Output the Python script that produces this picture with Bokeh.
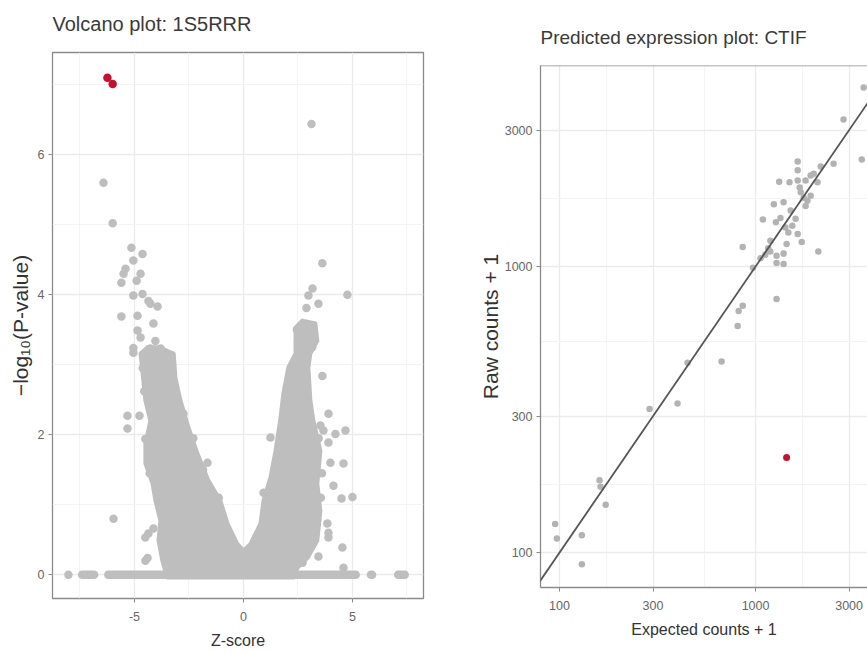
from bokeh.plotting import figure
from bokeh.layouts import row, column
from bokeh.models import FixedTicker, Range1d, Span, Slope, BasicTickFormatter, Title
from bokeh.embed import file_html
from bokeh.resources import INLINE

FONT = "Liberation Sans"

# ---------------- Volcano plot data ----------------
sig_z = [-6.24, -6.0]
sig_p = [7.10, 7.01]

out_z = [3.12, -6.42, -6.0, 3.62, 4.77,
         -5.14, -4.63, -5.05, -5.41, -5.5, -5.6, -4.72, -4.9, -5.05, -4.63, -4.36, -4.27, -3.94,
         -5.6, -4.86, -4.13, -4.86, -4.72, -5.05, -5.05, -4.04, -3.8, -4.27,
         -5.32, -5.32, -4.77, -4.5, -1.65, -5.96, -4.13, -4.5, -4.36, -4.13, -4.5, -4.4, -1.13,
         1.24, 0.92, 3.17, 2.98, 2.89, 3.44, 3.62, 3.9, 3.53, 3.67, 4.22, 4.68, 3.9, 3.99,
         4.59, 4.13, 4.5, 5.0, 3.85, 3.9, 3.9, 4.54, 3.44, 3.07, 2.71, 4.59,
         2.45, 2.7, 3.1, 3.25, 2.5, 3.15,
         -4.62, -4.55, -4.3, -2.75, -2.3, -1.85, 1.55, 1.95, 3.45, 3.6, 3.55]
out_p = [6.44, 5.60, 5.02, 4.45, 4.00,
         4.67, 4.58, 4.49, 4.37, 4.30, 4.17, 4.30, 4.20, 3.99, 4.01, 3.91, 3.87, 3.83,
         3.69, 3.70, 3.59, 3.49, 3.39, 3.24, 3.17, 3.34, 3.23, 3.23,
         2.27, 2.09, 2.27, 1.94, 1.60, 0.80, 1.67, 0.53, 0.59, 0.66, 0.20, 0.24, 1.10,
         1.96, 1.17, 4.09, 3.99, 3.81, 3.87, 2.84, 2.30, 2.13, 2.06, 2.01, 2.06, 1.89, 1.60,
         1.59, 1.27, 1.09, 1.11, 0.73, 0.60, 0.53, 0.39, 0.26, 0.39, 0.17, 0.10,
         3.50, 3.55, 3.50, 3.35, 3.30, 3.25,
         2.95, 2.62, 1.45, 2.3, 1.95, 1.5, 1.55, 2.05, 1.95, 1.45, 1.1]

cloud_z = [-3.5, -3.72, -3.9, -3.81, -4.04, -4.17, -4.5, -4.5, -4.27, -4.5, -4.59, -4.72,
           -4.4, -3.9, -3.2, -3.12, -2.89, -2.52, -2.11, -1.6, -1.06, -0.73, -0.3, 0.0,
           0.32, 0.78, 0.92, 1.24, 1.47, 1.7, 1.83, 2.06, 2.39, 2.39, 2.7, 3.3, 3.39, 3.07,
           2.98, 3.07, 3.21, 3.53, 3.39, 3.53, 3.39, 2.94, 2.48, 2.3]
cloud_p = [-0.04, 0.2, 0.49, 0.77, 1.06, 1.3, 1.59, 1.87, 2.2, 2.49, 2.77, 3.16,
           3.25, 3.25, 3.16, 2.81, 2.49, 2.1, 1.73, 1.34, 1.06, 0.73, 0.45, 0.34,
           0.44, 0.73, 1.06, 1.39, 1.77, 2.24, 2.59, 2.96, 3.16, 3.53, 3.63, 3.59, 3.34, 3.16,
           2.96, 2.49, 2.2, 1.77, 1.3, 0.91, 0.49, 0.24, 0.1, -0.04]

zero_lo = [-8.03, -7.4, -6.2, 5.85, 7.1]
zero_hi = [-8.03, -6.85, 5.15, 5.9, 7.4]
zero_p = [0, 0, 0, 0, 0]

# ---------------- Predicted expression data ----------------
exp_counts = [3560, 2810, 3480, 2500, 1640, 2150, 1980, 2070, 1800, 1320, 1490, 1640, 1640,
              1680, 1700, 1760, 1840, 1910, 1240, 1390, 1090, 1270, 1340, 1510, 1600, 1420,
              1540, 1640, 1720, 2090, 860, 1160, 1120, 1190, 1280, 1390, 1390, 1280, 1440,
              970, 1060, 1280, 860, 820, 810, 450, 671, 400, 288, 172, 160, 162, 130, 130,
              95, 97, 1190, 1470, 1800, 1910]
raw_counts = [4230, 3270, 2370, 2290, 2330, 2240, 2110, 1970, 2000, 1980, 1970, 2170, 2000,
              1890, 1820, 1740, 1700, 1770, 1650, 1680, 1460, 1430, 1480, 1570, 1470, 1370,
              1390, 1300, 1220, 1130, 1170, 1160, 1100, 1130, 1090, 1110, 1020, 1030, 1200,
              990, 1070, 770, 730, 700, 620, 461, 466, 332, 318, 147, 179, 170, 115, 91,
              126, 112, 1230, 1315, 1630, 2080]
red_exp = [1440]
red_raw = [215]

volcano_x_ticks = [-5, 0, 5]
volcano_y_ticks = [0, 2, 4, 6]
count_ticks = [100, 300, 1000, 3000]

GRAY = "#bebebe"
RED = "#c8102e"
BORDER = "#8a8a8a"


def add_title(p, text, size, gap):
    # invisible spacer nearest the frame, then the visible title above it
    p.add_layout(Title(text="\u00a0", text_font_size="2px", standoff=gap), "above")
    p.add_layout(Title(text=text, text_font=FONT, text_font_style="normal",
                       text_font_size=size, text_color="#3a3a3a", align="left",
                       standoff=0), "above")


def style(p, xlabel, ylabel, xstand, ystand):
    p.background_fill_color = "white"
    p.border_fill_color = "white"
    for ax in (p.xaxis[0], p.yaxis[0]):
        ax.major_tick_line_color = BORDER
        ax.major_tick_out = 4
        ax.major_tick_in = 0
        ax.minor_tick_line_color = None
        ax.major_label_text_font = FONT
        ax.major_label_text_font_size = "12.5px"
        ax.major_label_text_color = "#666666"
        ax.axis_label_text_font = FONT
        ax.axis_label_text_font_style = "normal"
        ax.axis_label_text_color = "#333333"
    p.xaxis.axis_label_text_font_size = "16px"
    p.yaxis.axis_label_text_font_size = "21px"
    p.xaxis.axis_label = xlabel
    p.yaxis.axis_label = ylabel
    p.xaxis.major_label_standoff = 9
    p.yaxis.major_label_standoff = 4
    p.xaxis.axis_label_standoff = xstand
    p.yaxis.axis_label_standoff = ystand
    for g in (p.xgrid[0], p.ygrid[0]):
        g.grid_line_color = "#ebebeb"
        g.grid_line_width = 1.3
        g.minor_grid_line_color = "#f3f3f3"
        g.minor_grid_line_width = 0.9


# ---------------- Left: volcano ----------------
p1 = figure(width=440, height=654,
            x_range=Range1d(-8.76, 8.26), y_range=Range1d(-0.34, 7.46),
            output_backend="svg", toolbar_location=None,
            min_border_left=52, min_border_right=17, min_border_top=52, min_border_bottom=56)
style(p1, "Z-score", "\u2212log\u2081\u2080(P-value)", 8, 3)
add_title(p1, "Volcano plot: 1S5RRR", "20px", 14)
p1.xaxis.ticker = FixedTicker(ticks=volcano_x_ticks, minor_ticks=[-7.5, -2.5, 2.5, 7.5])
p1.yaxis.ticker = FixedTicker(ticks=volcano_y_ticks, minor_ticks=[1, 3, 5, 7])
p1.xaxis.major_label_overrides = {t: str(t) for t in volcano_x_ticks}
p1.xaxis.axis_line_color = None
p1.yaxis.axis_line_color = None
p1.outline_line_color = BORDER
p1.outline_line_width = 1.3

p1.patch(cloud_z, cloud_p, fill_color=GRAY, line_color=GRAY, line_width=4, line_join="round")
p1.segment(zero_lo, zero_p, zero_hi, zero_p, line_color=GRAY, line_width=8.5, line_cap="round")
p1.scatter(out_z, out_p, size=8.5, color=GRAY, line_width=0)
p1.scatter(sig_z, sig_p, size=8.5, color=RED, line_width=0)

# ---------------- Right: predicted expression ----------------
x_end = 3724
y_end = 5047
p2 = figure(width=427, height=654,
            x_axis_type="log", y_axis_type="log",
            x_range=Range1d(80.0, x_end), y_range=Range1d(75.5, y_end),
            output_backend="svg", toolbar_location=None,
            min_border_left=100, min_border_right=0, min_border_top=65, min_border_bottom=67)
style(p2, "Expected counts + 1", "Raw counts + 1", 8, 0)
add_title(p2, "Predicted expression plot: CTIF", "19px", 14)
log_minor = [173.2, 547.7, 1732]
p2.xaxis.ticker = FixedTicker(ticks=count_ticks, minor_ticks=log_minor)
p2.yaxis.ticker = FixedTicker(ticks=count_ticks, minor_ticks=log_minor)
p2.xaxis.formatter = BasicTickFormatter(use_scientific=False)
p2.yaxis.formatter = BasicTickFormatter(use_scientific=False)
p2.outline_line_color = None
p2.xaxis.axis_line_color = BORDER
p2.yaxis.axis_line_color = BORDER
p2.xaxis.axis_line_width = 1.3
p2.yaxis.axis_line_width = 1.3
p2.add_layout(Span(location=y_end, dimension="width", line_color=BORDER, line_width=1.3))

p2.scatter(exp_counts, raw_counts, size=6.5, color="#b3b3b3", line_width=0)
p2.add_layout(Slope(gradient=1, y_intercept=0, line_color="#555555", line_width=1.8))
p2.scatter(red_exp, red_raw, size=7, color=RED, line_width=0)

layout = row(column(p1), column(p2))
open("out.html", "w").write(file_html(layout, INLINE))
